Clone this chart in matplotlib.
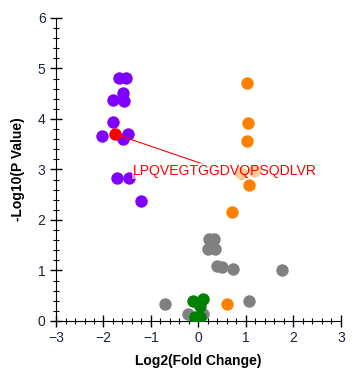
import matplotlib
matplotlib.use("Agg")
import matplotlib.pyplot as plt
from matplotlib.ticker import MultipleLocator

# Data (log2 fold change, -log10 p)
gray_x = [0.23, 0.33, 0.21, 0.35, 0.39, 0.50, 0.73, 1.76, -0.70, 1.07, -0.23, 0.10]
gray_y = [1.63, 1.63, 1.43, 1.42, 1.08, 1.06, 1.02, 1.00, 0.33, 0.40, 0.13, 0.13]
green_x = [-0.11, 0.10, 0.03, -0.07, 0.03]
green_y = [0.40, 0.44, 0.30, 0.08, 0.08]
purple_x = [-1.67, -1.53, -1.58, -1.81, -1.56, -1.79, -2.03, -1.49, -1.58, -1.71, -1.46, -1.20]
purple_y = [4.82, 4.82, 4.52, 4.38, 4.36, 3.94, 3.66, 3.70, 3.60, 2.83, 2.83, 2.37]
orange_x = [1.03, 1.05, 1.03, 0.89, 1.17, 1.07, 0.71, 0.61]
orange_y = [4.71, 3.93, 3.56, 2.94, 2.97, 2.70, 2.16, 0.33]
red_x = [-1.75]
red_y = [3.70]
label_text = "LPQVEGTGGDVQPSQDLVR"
label_anchor = (0.09, 3.11)
label_pos = (-1.38, 2.97)

xticks = [-3, -2, -1, 0, 1, 2, 3]
yticks = [0, 1, 2, 3, 4, 5, 6]

plt.rcParams['font.family'] = ['Liberation Sans', 'DejaVu Sans']

fig = plt.figure(figsize=(3.6, 3.82), dpi=100)
ax = fig.add_axes([0.1556, 0.1597, 0.7914, 0.7932])

s = 80
ax.scatter(gray_x, gray_y, s=s, c='#808080', linewidths=0, zorder=2)
ax.scatter(green_x, green_y, s=s, c='#008000', linewidths=0, zorder=3)
ax.scatter(purple_x, purple_y, s=s, c='#8000ff', linewidths=0, zorder=3)
ax.scatter(orange_x, orange_y, s=s, c='#ff8000', linewidths=0, zorder=3)
ax.scatter(red_x, red_y, s=s, c='#ff0000', linewidths=0, zorder=4)

ax.plot([red_x[0], label_anchor[0]], [red_y[0], label_anchor[1]], color='#ff0000', lw=0.8, zorder=4)
ax.text(label_pos[0], label_pos[1], label_text, color='#ff0000', fontsize=10.1,
        ha='left', va='center', zorder=5,
        bbox=dict(boxstyle='square,pad=0.1', facecolor='white', edgecolor='none', alpha=0.6))

ax.set_xlim(-3, 3)
ax.set_ylim(0, 6)
ax.set_xticks(xticks)
ax.set_yticks(yticks)
ax.xaxis.set_minor_locator(MultipleLocator(0.2))
ax.yaxis.set_minor_locator(MultipleLocator(0.2))
ax.spines['top'].set_visible(False)
ax.spines['right'].set_visible(False)
ax.tick_params(which='major', direction='inout', length=8, width=1, labelsize=10, colors='black', labelcolor='#1a2440')
ax.tick_params(which='minor', direction='inout', length=5, width=0.8)
ax.set_xlabel('Log2(Fold Change)', fontsize=10, fontweight='bold', labelpad=6)
ax.set_ylabel('-Log10(P Value)', fontsize=10, fontweight='bold', labelpad=9)

fig.savefig('out.png', dpi=100)
